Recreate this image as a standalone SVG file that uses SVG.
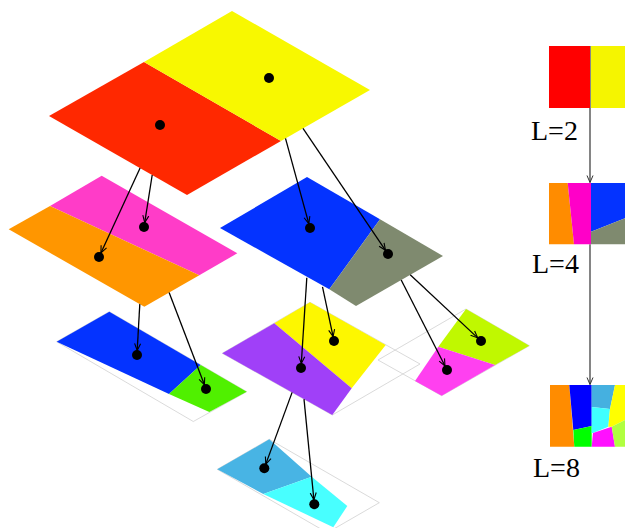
<svg xmlns="http://www.w3.org/2000/svg" width="625" height="528" viewBox="0 0 625 528">
<defs>
<marker id="ah" markerUnits="userSpaceOnUse" markerWidth="8" markerHeight="8" viewBox="0 0 8 8" refX="7.5" refY="4" orient="auto">
<path d="M0.5,1 L7.5,4 L0.5,7" fill="none" stroke="#000" stroke-width="1.1"/>
</marker>
<marker id="ah2" markerUnits="userSpaceOnUse" markerWidth="8" markerHeight="8" viewBox="0 0 8 8" refX="7.5" refY="4" orient="auto">
<path d="M0.5,1 L7.5,4 L0.5,7" fill="none" stroke="#333" stroke-width="1"/>
</marker>
</defs>
<style>
.dot{fill:#000}
.ol{fill:none;stroke:#d0d0d0;stroke-width:0.8}
.edge{fill:none;stroke:#000;stroke-width:1.3;marker-end:url(#ah)}
.vline{fill:none;stroke:#333;stroke-width:1.2;marker-end:url(#ah2)}
.lbl{font-family:"Liberation Serif","Times New Roman",serif;font-size:28px;fill:#000}
</style>

<g id="node-bottom">
<polygon class="ol" points="217.3,469.3 269.3,439.3 379.3,502.7 327.3,532.7"/>
<polygon fill="#48b4e4" points="217.3,469.3 269.3,439.3 311.7,476.7 263.3,494"/>
<polygon fill="#48ffff" points="311.7,476.7 347.3,506 333.3,527.3 263.3,494"/>
<circle class="dot" cx="264.3" cy="468.3" r="5"/>
<circle class="dot" cx="314.3" cy="504.3" r="5"/>
</g>

<g id="node-blue-green">
<polygon class="ol" points="56.7,341.7 109.3,311.7 246.7,391.7 193.3,421.5"/>
<polygon fill="#0433ff" points="56.7,341.7 109.3,311.7 200.7,365 169,394"/>
<polygon fill="#50f000" points="200.7,365 246.7,391.7 209.3,412 169,394"/>
<circle class="dot" cx="137" cy="355" r="5"/>
<circle class="dot" cx="206" cy="389" r="5"/>
</g>

<g id="node-yellow-purple">
<polygon class="ol" points="222.3,353.3 310,302.3 420,364 332.3,415"/>
<polygon fill="#fdf700" points="274.3,323.3 310,302.3 385.7,345 351.7,388.3"/>
<polygon fill="#a040f8" points="222.3,353.3 274.3,323.3 351.7,388.3 332.3,415"/>
<circle class="dot" cx="334" cy="341" r="5"/>
<circle class="dot" cx="301" cy="368" r="5"/>
</g>

<g id="node-magenta-lime">
<polygon class="ol" points="378,360 466,309 529.3,345.7 441.7,395.7"/>
<polygon fill="#c0f800" points="466,309 529.3,345.7 495,365 438.3,346.7"/>
<polygon fill="#ff40f0" points="438.3,346.7 495,365 441.7,395.7 415,381"/>
<circle class="dot" cx="481" cy="341" r="5"/>
<circle class="dot" cx="447" cy="370" r="5"/>
</g>

<g id="node-pink-orange">
<polygon fill="#ff3cc8" points="50,206 101.7,175.7 237.3,253.3 199.3,275.3"/>
<polygon fill="#ff9600" points="8.7,229.3 50,206 199.3,275.3 144.3,306.7"/>
<circle class="dot" cx="144" cy="227" r="5"/>
<circle class="dot" cx="99" cy="257" r="5"/>
</g>

<g id="node-blue-gray">
<polygon fill="#0433ff" points="220,228 307,177 380,219.3 329.3,289.3"/>
<polygon fill="#7f8a6f" points="380,219.3 443,256 356,306 329.3,289.3"/>
<circle class="dot" cx="310" cy="228" r="5"/>
<circle class="dot" cx="388" cy="254" r="5"/>
</g>

<g id="node-top">
<polygon fill="#ff2800" points="49,116 144,62 281,141 187,195"/>
<polygon fill="#f8f800" points="144,62 232,11 370,90 281,141"/>
<circle class="dot" cx="160" cy="125" r="5"/>
<circle class="dot" cx="269" cy="78" r="5"/>
</g>

<g id="connectors">
<line class="edge" x1="140.1" y1="168.1" x2="100.9" y2="252.9"/>
<line class="edge" x1="152.2" y1="175" x2="144.7" y2="222.6"/>
<line class="edge" x1="285.5" y1="138.4" x2="308.8" y2="223.7"/>
<line class="edge" x1="303" y1="128.4" x2="385.5" y2="250.3"/>
<line class="edge" x1="306.8" y1="277.8" x2="301.3" y2="363.5"/>
<line class="edge" x1="322.5" y1="286.8" x2="333.1" y2="336.6"/>
<line class="edge" x1="401.2" y1="280" x2="445" y2="366"/>
<line class="edge" x1="410.2" y1="274.8" x2="477.7" y2="337.9"/>
<line class="edge" x1="139.8" y1="304.1" x2="137.2" y2="350.5"/>
<line class="edge" x1="169.1" y1="292.5" x2="204.4" y2="384.8"/>
<line class="edge" x1="292.1" y1="392.4" x2="265.8" y2="464.1"/>
<line class="edge" x1="304" y1="399.1" x2="313.9" y2="499.8"/>
<line class="vline" x1="590" y1="108" x2="590" y2="182.5"/>
<line class="vline" x1="590" y1="244.3" x2="590" y2="384.5"/>
</g>

<g id="level-2">
<rect x="549" y="46" width="42" height="62" fill="#ff0000"/>
<rect x="591" y="46" width="34" height="62" fill="#f5f500"/>
<line x1="590.5" y1="46" x2="590.5" y2="108" stroke="#888" stroke-width="1"/>
<text class="lbl" x="531" y="140">L=2</text>
</g>

<g id="level-4">
<polygon fill="#ff8c00" points="549,183 567.7,183 574,244.3 549,244.3"/>
<polygon fill="#ff00c8" points="567.7,183 591,183 591,244.3 574,244.3"/>
<polygon fill="#0433ff" points="591,183 625,183 625,218.3 591,231.7"/>
<polygon fill="#7f8a6f" points="591,231.7 625,218.3 625,244.3 591,244.3"/>
<text class="lbl" x="532" y="273">L=4</text>
</g>

<g id="level-8">
<polygon fill="#ff8c00" points="550,385 569.3,385 574.3,446.7 550,446.7"/>
<polygon fill="#0000ff" points="569.3,385 591.7,385 591.7,426 573.3,430"/>
<polygon fill="#00ff00" points="573.3,430 591.7,426 591.7,446.7 574.3,446.7"/>
<polygon fill="#45b0e0" points="591.7,385 615,385 610,409 591.7,407"/>
<polygon fill="#40ffff" points="591.7,407 610,409 608.3,426.7 593,433 591.7,433"/>
<polygon fill="#ff10ff" points="593,433 611.7,426.7 615,446.7 591.7,446.7"/>
<polygon fill="#ffff00" points="615,385 625,385 625,420 611.7,426.7 608.3,426.7 610,409"/>
<polygon fill="#b0ff40" points="611.7,426.7 625,420 625,446.7 615,446.7"/>
<text class="lbl" x="533" y="477">L=8</text>
</g>
</svg>
